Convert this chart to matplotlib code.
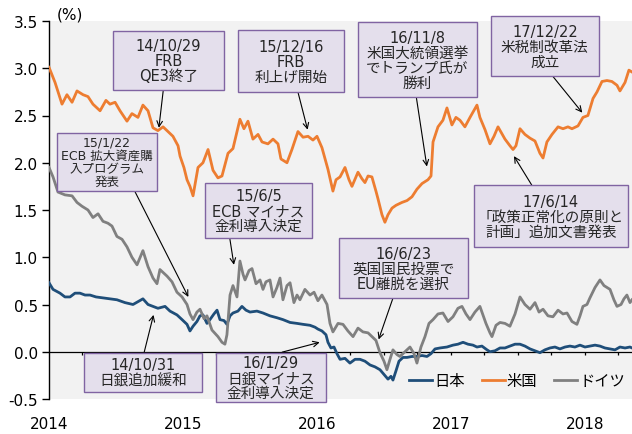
import numpy as np
import matplotlib
matplotlib.use("Agg")
import matplotlib.pyplot as plt
from matplotlib.patches import Rectangle

plt.rcParams['font.family'] = ['DejaVu Sans', 'Noto Sans CJK JP']

# 10-year government bond yields (%), x in decimal years
us_t = [2014.000, 2014.045, 2014.097, 2014.134, 2014.172, 2014.209, 2014.254, 2014.291, 2014.328, 2014.381,
        2014.425, 2014.455, 2014.493, 2014.530, 2014.582, 2014.619, 2014.664, 2014.701, 2014.739, 2014.776,
        2014.813, 2014.851, 2014.888, 2014.925, 2014.963, 2014.978, 2015.007, 2015.030, 2015.052, 2015.075,
        2015.112, 2015.149, 2015.187, 2015.224, 2015.261, 2015.291, 2015.336, 2015.373, 2015.425, 2015.455,
        2015.485, 2015.522, 2015.560, 2015.590, 2015.634, 2015.672, 2015.709, 2015.731, 2015.776, 2015.813,
        2015.858, 2015.896, 2015.933, 2015.970, 2016.000, 2016.037, 2016.082, 2016.119, 2016.142, 2016.172,
        2016.209, 2016.239, 2016.261, 2016.306, 2016.336, 2016.358, 2016.381, 2016.410, 2016.440, 2016.455,
        2016.485, 2016.507, 2016.530, 2016.560, 2016.590, 2016.634, 2016.672, 2016.709, 2016.746, 2016.784,
        2016.828, 2016.851, 2016.866, 2016.903, 2016.940, 2016.970, 2017.007, 2017.037, 2017.067, 2017.104,
        2017.142, 2017.194, 2017.216, 2017.254, 2017.291, 2017.321, 2017.351, 2017.403, 2017.440, 2017.463,
        2017.485, 2017.515, 2017.552, 2017.590, 2017.627, 2017.664, 2017.687, 2017.716, 2017.754, 2017.799,
        2017.836, 2017.873, 2017.903, 2017.948, 2017.985, 2018.022, 2018.060, 2018.090, 2018.127, 2018.164,
        2018.201, 2018.239, 2018.261, 2018.299, 2018.328, 2018.351]
us_v = [3.01, 2.85, 2.62, 2.72, 2.64, 2.76, 2.72, 2.70, 2.62, 2.55,
        2.66, 2.62, 2.64, 2.55, 2.44, 2.52, 2.48, 2.61, 2.55, 2.37,
        2.34, 2.38, 2.33, 2.28, 2.18, 2.07, 1.95, 1.82, 1.75, 1.65,
        1.95, 2.00, 2.14, 1.92, 1.84, 1.86, 2.10, 2.15, 2.46, 2.36,
        2.44, 2.25, 2.30, 2.22, 2.20, 2.25, 2.20, 2.04, 2.00, 2.14,
        2.33, 2.27, 2.28, 2.24, 2.28, 2.16, 1.93, 1.70, 1.82, 1.85,
        1.95, 1.82, 1.75, 1.90, 1.83, 1.79, 1.86, 1.85, 1.70, 1.62,
        1.45, 1.37, 1.45, 1.52, 1.55, 1.58, 1.60, 1.64, 1.72, 1.78,
        1.82, 1.86, 2.22, 2.38, 2.45, 2.58, 2.40, 2.48, 2.45, 2.38,
        2.48, 2.61, 2.48, 2.35, 2.20, 2.28, 2.38, 2.25, 2.18, 2.14,
        2.18, 2.36, 2.30, 2.26, 2.23, 2.10, 2.05, 2.22, 2.30, 2.38,
        2.36, 2.38, 2.36, 2.39, 2.48, 2.50, 2.68, 2.75, 2.86, 2.87,
        2.86, 2.82, 2.76, 2.85, 2.98, 2.96]

de_t = [2014.000, 2014.030, 2014.067, 2014.119, 2014.172, 2014.209, 2014.246, 2014.291, 2014.328, 2014.366,
        2014.403, 2014.440, 2014.470, 2014.507, 2014.545, 2014.582, 2014.619, 2014.657, 2014.701, 2014.739,
        2014.776, 2014.806, 2014.828, 2014.881, 2014.918, 2014.955, 2014.993, 2015.030, 2015.052, 2015.075,
        2015.104, 2015.127, 2015.157, 2015.179, 2015.216, 2015.261, 2015.291, 2015.313, 2015.328, 2015.351,
        2015.373, 2015.403, 2015.425, 2015.448, 2015.463, 2015.493, 2015.515, 2015.545, 2015.575, 2015.597,
        2015.619, 2015.649, 2015.672, 2015.701, 2015.724, 2015.746, 2015.776, 2015.799, 2015.828, 2015.851,
        2015.873, 2015.910, 2015.948, 2015.978, 2016.007, 2016.037, 2016.075, 2016.097, 2016.119, 2016.157,
        2016.194, 2016.231, 2016.269, 2016.306, 2016.343, 2016.381, 2016.410, 2016.440, 2016.470, 2016.500,
        2016.522, 2016.545, 2016.567, 2016.597, 2016.619, 2016.657, 2016.694, 2016.724, 2016.746, 2016.776,
        2016.806, 2016.836, 2016.866, 2016.903, 2016.940, 2016.978, 2017.015, 2017.052, 2017.082, 2017.112,
        2017.142, 2017.179, 2017.216, 2017.261, 2017.291, 2017.306, 2017.336, 2017.366, 2017.403, 2017.440,
        2017.478, 2017.515, 2017.552, 2017.590, 2017.627, 2017.657, 2017.687, 2017.724, 2017.761, 2017.799,
        2017.836, 2017.866, 2017.903, 2017.940, 2017.963, 2017.985, 2018.015, 2018.037, 2018.075, 2018.112,
        2018.142, 2018.187, 2018.216, 2018.239, 2018.269, 2018.291, 2018.313, 2018.336, 2018.351]
de_v = [1.95, 1.85, 1.69, 1.66, 1.65, 1.58, 1.54, 1.50, 1.42, 1.46,
        1.38, 1.36, 1.33, 1.22, 1.19, 1.11, 1.00, 0.92, 1.07, 0.90,
        0.78, 0.72, 0.87, 0.80, 0.74, 0.63, 0.58, 0.50, 0.40, 0.34,
        0.42, 0.45, 0.35, 0.38, 0.23, 0.16, 0.10, 0.08, 0.18, 0.60,
        0.70, 0.58, 0.96, 0.82, 0.76, 0.86, 0.88, 0.72, 0.76, 0.66,
        0.74, 0.76, 0.58, 0.68, 0.78, 0.55, 0.70, 0.73, 0.52, 0.60,
        0.55, 0.66, 0.60, 0.63, 0.54, 0.60, 0.50, 0.30, 0.21, 0.30,
        0.29, 0.22, 0.16, 0.25, 0.21, 0.20, 0.16, 0.12, -0.01, -0.10,
        -0.19, -0.08, 0.02, -0.03, -0.05, 0.00, 0.05, -0.02, -0.12, 0.05,
        0.16, 0.30, 0.34, 0.40, 0.41, 0.32, 0.37, 0.46, 0.48, 0.40,
        0.34, 0.42, 0.48, 0.30, 0.20, 0.16, 0.28, 0.31, 0.30, 0.27,
        0.40, 0.58, 0.50, 0.45, 0.52, 0.42, 0.45, 0.38, 0.37, 0.44,
        0.40, 0.41, 0.32, 0.29, 0.38, 0.48, 0.50, 0.57, 0.68, 0.76,
        0.70, 0.66, 0.55, 0.48, 0.50, 0.56, 0.60, 0.52, 0.55]

jp_t = [2014.000, 2014.030, 2014.082, 2014.119, 2014.157, 2014.194, 2014.231, 2014.269, 2014.306, 2014.351,
        2014.403, 2014.455, 2014.507, 2014.567, 2014.627, 2014.664, 2014.701, 2014.739, 2014.776, 2014.813,
        2014.866, 2014.903, 2014.955, 2014.993, 2015.030, 2015.052, 2015.075, 2015.104, 2015.127, 2015.149,
        2015.179, 2015.201, 2015.231, 2015.254, 2015.276, 2015.306, 2015.328, 2015.351, 2015.373, 2015.410,
        2015.440, 2015.470, 2015.500, 2015.552, 2015.597, 2015.649, 2015.701, 2015.746, 2015.799, 2015.851,
        2015.896, 2015.948, 2015.985, 2016.007, 2016.037, 2016.067, 2016.082, 2016.104, 2016.127, 2016.149,
        2016.172, 2016.209, 2016.246, 2016.284, 2016.321, 2016.358, 2016.396, 2016.433, 2016.470, 2016.500,
        2016.530, 2016.552, 2016.567, 2016.590, 2016.612, 2016.642, 2016.672, 2016.709, 2016.746, 2016.784,
        2016.821, 2016.851, 2016.881, 2016.918, 2016.970, 2017.015, 2017.052, 2017.090, 2017.127, 2017.164,
        2017.194, 2017.231, 2017.269, 2017.291, 2017.328, 2017.366, 2017.403, 2017.440, 2017.478, 2017.515,
        2017.552, 2017.590, 2017.627, 2017.664, 2017.701, 2017.739, 2017.776, 2017.813, 2017.851, 2017.888,
        2017.925, 2017.963, 2018.000, 2018.037, 2018.075, 2018.112, 2018.149, 2018.187, 2018.224, 2018.261,
        2018.299, 2018.336, 2018.351]
jp_v = [0.73, 0.66, 0.62, 0.58, 0.58, 0.62, 0.62, 0.60, 0.60, 0.58,
        0.57, 0.56, 0.55, 0.52, 0.50, 0.53, 0.56, 0.50, 0.48, 0.46,
        0.48, 0.43, 0.39, 0.34, 0.29, 0.22, 0.27, 0.32, 0.38, 0.39,
        0.30, 0.34, 0.40, 0.44, 0.34, 0.33, 0.29, 0.38, 0.41, 0.43,
        0.48, 0.44, 0.42, 0.43, 0.41, 0.38, 0.36, 0.34, 0.31, 0.30,
        0.29, 0.28, 0.26, 0.24, 0.22, 0.18, 0.10, 0.04, 0.05, -0.02,
        -0.08, -0.07, -0.12, -0.08, -0.08, -0.10, -0.14, -0.16, -0.19, -0.24,
        -0.29, -0.26, -0.30, -0.20, -0.10, -0.06, -0.06, -0.05, -0.05, -0.04,
        -0.05, -0.02, 0.03, 0.04, 0.05, 0.07, 0.08, 0.10, 0.08, 0.07,
        0.05, 0.06, 0.02, 0.00, 0.01, 0.04, 0.04, 0.06, 0.08, 0.08,
        0.06, 0.03, 0.01, -0.01, 0.02, 0.04, 0.05, 0.03, 0.05, 0.06,
        0.05, 0.07, 0.05, 0.06, 0.07, 0.06, 0.04, 0.03, 0.02, 0.05,
        0.04, 0.05, 0.04]

years = [2014, 2015, 2016, 2017, 2018]
yticks = [-0.5, 0.0, 0.5, 1.0, 1.5, 2.0, 2.5, 3.0, 3.5]

# events: text, (date, value) the arrow points at
events = [
    ("14/10/29\nFRB\nQE3終了", (2014.82, 2.37)),
    ("15/12/16\nFRB\n利上げ開始", (2015.93, 2.35)),
    ("16/11/8\n米国大統領選挙\nでトランプ氏が\n勝利", (2016.82, 1.96)),
    ("17/12/22\n米税制改革法\n成立", (2017.98, 2.53)),
    ("17/6/14\n「政策正常化の原則と\n計画」追加文書発表", (2017.47, 2.07)),
    ("15/1/22\nECB 拡大資産購\n入プログラム\n発表", (2015.04, 0.58)),
    ("15/6/5\nECB マイナス\n金利導入決定", (2015.38, 0.92)),
    ("16/6/23\n英国国民投票で\nEU離脱を選択", (2016.46, 0.13)),
    ("14/10/31\n日銀追加緩和", (2014.78, 0.39)),
    ("16/1/29\n日銀マイナス\n金利導入決定", (2016.02, 0.10)),
]
# box extents (axes fraction: x0, x1, y0, y1) and arrow start points
boxes = [
    (0.110, 0.300, 0.817, 0.974),
    (0.324, 0.506, 0.812, 0.976),
    (0.530, 0.734, 0.799, 0.997),
    (0.758, 0.943, 0.854, 1.013),
    (0.729, 0.993, 0.402, 0.566),
    (0.014, 0.185, 0.550, 0.704),
    (0.268, 0.451, 0.426, 0.571),
    (0.497, 0.719, 0.267, 0.426),
    (0.060, 0.262, 0.019, 0.122),
    (0.286, 0.475, -0.008, 0.122),
]
starts = [(0.196, 0.817), (0.427, 0.812), (0.630, 0.799), (0.864, 0.854), (0.828, 0.566),
          (0.147, 0.550), (0.310, 0.426), (0.590, 0.267), (0.163, 0.122), (0.400, 0.124)]
sizes = [10.5, 10.5, 10.5, 10.5, 10.5, 9, 10.5, 10.5, 10.5, 10.5]

fig = plt.figure(figsize=(6.32, 4.35), dpi=100)
ax = fig.add_axes([49 / 632, 35 / 435, 583 / 632, 378 / 435])
ax.set_facecolor('#f2f2f2')

ax.plot(jp_t, jp_v, color='#1f4e79', lw=2.0, label='日本', zorder=3)
ax.plot(us_t, us_v, color='#ed7d31', lw=2.0, label='米国', zorder=3)
ax.plot(de_t, de_v, color='#808080', lw=2.0, label='ドイツ', zorder=3)

ax.set_xlim(2014, 2018.351)
ax.set_ylim(-0.5, 3.5)
ax.set_yticks(yticks)
ax.set_yticklabels(['%.1f' % v for v in yticks])
ax.set_xticks(years)
ax.set_xticklabels([str(y) for y in years])
ax.tick_params(axis='y', direction='out', length=5, width=1, labelsize=11, pad=3)
ax.tick_params(axis='x', length=0, labelsize=11, pad=12)
for s in ['top', 'right', 'bottom']:
    ax.spines[s].set_visible(False)
ax.spines['left'].set_linewidth(1)

# zero line with quarterly ticks
ax.axhline(0, color='black', lw=0.9, zorder=2)
quarters = np.arange(2014.25, 2018.3, 0.25)
ax.vlines(quarters, -0.035, 0, color='black', lw=0.9, zorder=2)

ax.text(0.036, 1.018, '(%)', transform=ax.transAxes, ha='center', va='center', fontsize=11)

for (txt, tip), (x0, x1, y0, y1), st, fs in zip(events, boxes, starts, sizes):
    ax.add_patch(Rectangle((x0, y0), x1 - x0, y1 - y0, transform=ax.transAxes,
                           facecolor='#e4dfec', edgecolor='#8064a2', lw=1.0,
                           zorder=5, clip_on=False))
    ax.text((x0 + x1) / 2, (y0 + y1) / 2, txt, transform=ax.transAxes,
            ha='center', va='center', fontsize=fs, linespacing=1.0,
            color='#262626', zorder=6)
    ax.annotate('', xy=tip, xycoords='data', xytext=st, textcoords='axes fraction',
                arrowprops=dict(arrowstyle='->', color='black', lw=0.8,
                                shrinkA=0, shrinkB=0), zorder=4)

ax.legend(loc='center', bbox_to_anchor=(0.803, 0.048), ncol=3, frameon=False,
          fontsize=11, handlelength=1.5, handletextpad=0.15, columnspacing=1.1)

fig.savefig('out.png', dpi=100)
